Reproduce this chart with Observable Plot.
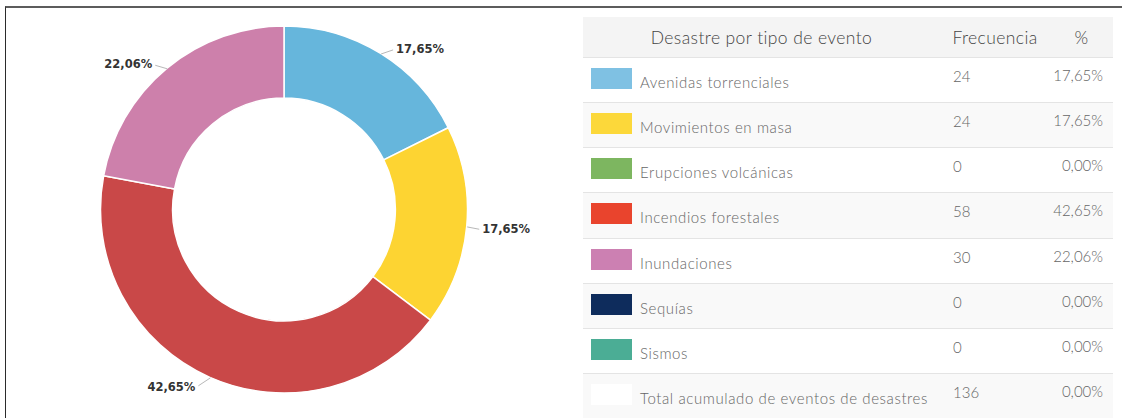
<!DOCTYPE html>
<html>
<head>
<meta charset="utf-8">
<script src="https://cdn.jsdelivr.net/npm/d3@7"></script>
<script src="https://cdn.jsdelivr.net/npm/@observablehq/plot@0.6"></script>
<style>
  html, body { margin: 0; padding: 0; background: #fff; }
  body { width: 1126px; height: 418px; overflow: hidden; position: relative; font-family: Lato, "Open Sans", sans-serif; }
  #chart { position: absolute; left: 0; top: 0; }
  #frame { position: absolute; left: 5px; top: 6px; width: 1117px; height: 430px; border-top: 2px solid #5c5c5c; border-left: 1.5px solid #2b2b2b; box-sizing: border-box; pointer-events: none; z-index: 5; }
  #table { position: absolute; left: 583px; top: 17px; width: 530px; color: #666; font-weight: 300; }
  .row { position: absolute; left: 0; width: 530px; box-sizing: border-box; border-top: 1px solid #e4e4e4; }
  .head { background: #f4f4f4; height: 40px; border-top: none; color: #444; font-size: 17.5px; letter-spacing: 0.4px; }
  .cell { position: absolute; white-space: nowrap; line-height: 1; }
  .sw { position: absolute; left: 8px; top: 10px; width: 41px; height: 21px; }
</style>
</head>
<body>
<div id="chart"></div>
<div id="table"></div>
<div id="frame"></div>
<script>
// ---- data ----
const categories = ["Avenidas torrenciales", "Movimientos en masa", "Erupciones volcánicas", "Incendios forestales", "Inundaciones", "Sequías", "Sismos"];
const frequencies = [24, 24, 0, 58, 30, 0, 0];
const percentLabels = ["17,65%", "17,65%", "0,00%", "42,65%", "22,06%", "0,00%", "0,00%"];
const sliceColors = ["#66b6dc", "#fdd432", "#7db55f", "#c94848", "#cd80ab", "#0d2b5b", "#4aac94"];
const swatchColors = ["#7fc1e3", "#fcd83a", "#7db660", "#e9442d", "#cc80b2", "#0e2c5c", "#4bad95"];
const headers = ["Desastre por tipo de evento", "Frecuencia", "%"];
const totalLabel = "Total acumulado de eventos de desastres";
const totalValue = 136;
const totalPercent = "0,00%";

// ---- donut ----
const R = 183.5, CX = 284, CY = 209.5, INNER = 0.607;
const slices = categories.map((c, i) => ({category: c, value: frequencies[i], label: percentLabels[i], color: sliceColors[i]}));
const arcs = d3.pie().sort(null).value(d => d.value)(slices).filter(a => a.data.value > 0);
const labels = arcs.map(a => {
  const m = (a.startAngle + a.endAngle) / 2;
  const ux = Math.sin(m), uy = Math.cos(m);
  const side = ux >= 0 ? 1 : -1;
  const dyPx = -8 * uy + 2; // screen px, downwards
  return {
    label: a.data.label, side,
    x1: ux, y1: uy,
    x2: ux + side * 12 / R, y2: uy - dyPx * 0.85 / R,
    tx: ux + side * 15 / R, ty: uy - dyPx / R
  };
});

function donut(index, scales) {
  const cx = scales.x(0), cy = scales.y(0), r = scales.x(1) - cx;
  const arc = d3.arc().innerRadius(r * INNER).outerRadius(r);
  const g = d3.create("svg:g").attr("transform", `translate(${cx},${cy})`);
  g.selectAll("path").data(arcs).join("path")
    .attr("d", arc)
    .attr("fill", d => d.data.color)
    .attr("stroke", "#fff")
    .attr("stroke-width", 1.5)
    .attr("stroke-linejoin", "round");
  return g.node();
}

const W = 575, H = 418;
const plot = Plot.plot({
  width: W, height: H,
  marginLeft: CX - R, marginRight: W - (CX + R),
  marginTop: CY - R, marginBottom: H - (CY + R),
  x: {domain: [-1, 1], axis: null},
  y: {domain: [-1, 1], axis: null},
  style: {background: "transparent", overflow: "visible"},
  marks: [
    donut,
    Plot.link(labels, {x1: "x1", y1: "y1", x2: "x2", y2: "y2", stroke: "#b8b8b8", strokeWidth: 1}),
    Plot.text(labels, {filter: d => d.side > 0, x: "tx", y: "ty", text: "label", textAnchor: "start", fontSize: 11.5, fontWeight: "bold", fill: "#333", fontFamily: "DejaVu Sans"}),
    Plot.text(labels, {filter: d => d.side < 0, x: "tx", y: "ty", text: "label", textAnchor: "end", fontSize: 11.5, fontWeight: "bold", fill: "#333", fontFamily: "DejaVu Sans"})
  ]
});
document.getElementById("chart").append(plot);

// ---- table ----
const table = document.getElementById("table");
const col1 = 357, col2 = 110, col3 = 63;
const head = document.createElement("div");
head.className = "row head";
head.style.top = "0px";
head.innerHTML =
  `<div class="cell" style="left:0;width:${col1}px;text-align:center;top:12px">${headers[0]}</div>` +
  `<div class="cell" style="left:${col1}px;width:${col2}px;text-align:center;top:12px">${headers[1]}</div>` +
  `<div class="cell" style="left:${col1 + col2}px;width:${col3}px;text-align:center;top:12px">${headers[2]}</div>`;
table.append(head);

const rows = categories.map((c, i) => ({label: c, color: swatchColors[i], freq: frequencies[i], pct: percentLabels[i]}));
rows.push({label: totalLabel, color: "#ffffff", freq: totalValue, pct: totalPercent});
const rowH = 45.15;
rows.forEach((r, i) => {
  const d = document.createElement("div");
  d.className = "row";
  d.style.top = (40 + i * rowH) + "px";
  d.style.height = rowH + "px";
  d.style.background = i % 2 === 0 ? "#ffffff" : "#f9f9f9";
  d.style.fontSize = "15px";
  d.innerHTML =
    `<div class="sw" style="background:${r.color}"></div>` +
    `<div class="cell" style="left:57px;top:17px;letter-spacing:0.6px">${r.label}</div>` +
    `<div class="cell" style="left:${col1 + 13}px;top:11px">${r.freq}</div>` +
    `<div class="cell" style="right:10px;top:10px">${r.pct}</div>`;
  table.append(d);
});
</script>
</body>
</html>
